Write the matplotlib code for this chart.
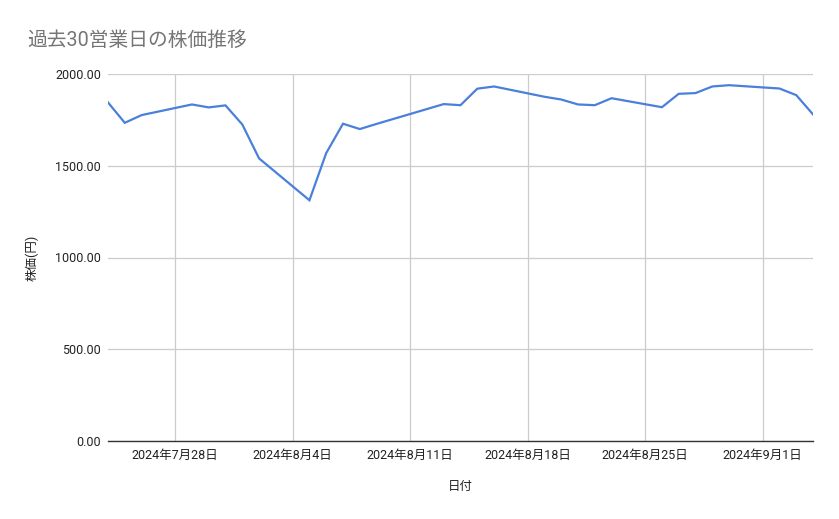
import matplotlib
matplotlib.use("Agg")
import matplotlib.pyplot as plt
import matplotlib.dates as mdates
from matplotlib.ticker import FuncFormatter
import datetime as dt

plt.rcParams['font.family'] = ['Roboto', 'Noto Sans CJK JP', 'DejaVu Sans']

dates = ["2024-07-24", "2024-07-25", "2024-07-26", "2024-07-29", "2024-07-30",
         "2024-07-31", "2024-08-01", "2024-08-02", "2024-08-05", "2024-08-06",
         "2024-08-07", "2024-08-08", "2024-08-09", "2024-08-13", "2024-08-14",
         "2024-08-15", "2024-08-16", "2024-08-19", "2024-08-20", "2024-08-21",
         "2024-08-22", "2024-08-23", "2024-08-26", "2024-08-27", "2024-08-28",
         "2024-08-29", "2024-08-30", "2024-09-02", "2024-09-03", "2024-09-04"]
prices = [1845, 1734, 1776, 1834, 1818,
          1829, 1725, 1540, 1312, 1569,
          1729, 1700, 1728, 1836, 1830,
          1920, 1932, 1876, 1861, 1834,
          1830, 1868, 1819, 1892, 1896,
          1932, 1939, 1921, 1885, 1780]
tick_dates = ["2024-07-28", "2024-08-04", "2024-08-11", "2024-08-18", "2024-08-25", "2024-09-01"]
y_ticks = [0, 500, 1000, 1500, 2000]

title = "過去30営業日の株価推移"
xlabel = "日付"
ylabel = "株価(円)"

x = [dt.datetime.strptime(d, "%Y-%m-%d") for d in dates]
xt = [dt.datetime.strptime(d, "%Y-%m-%d") for d in tick_dates]

fig = plt.figure(figsize=(8.39, 5.19), dpi=100)
ax = fig.add_axes([108/839, 1-441/519, (813-108)/839, (441-74)/519])

ax.plot(x, prices, color='#4a80dc', linewidth=1.6, solid_joinstyle='miter', zorder=3)

ax.set_xlim(x[0], x[-1])
ax.set_ylim(0, 2000)
ax.set_yticks(y_ticks)
ax.yaxis.set_major_formatter(FuncFormatter(lambda v, p: f"{v:.2f}"))
ax.set_xticks([mdates.date2num(d) for d in xt])
ax.set_xticklabels([f"{d.year}年{d.month}月{d.day}日" for d in xt])

ax.grid(True, color='#cccccc', linewidth=0.9, zorder=0)
for s in ['top', 'right', 'left']:
    ax.spines[s].set_visible(False)
ax.spines['bottom'].set_color('#333333')
ax.spines['bottom'].set_linewidth(1.0)
ax.spines['bottom'].set_zorder(4)
ax.tick_params(axis='both', length=0, labelsize=9, labelcolor='#222222')
ax.tick_params(axis='y', pad=5)
ax.tick_params(axis='x', pad=6)

ax.set_xlabel(xlabel, fontsize=9, color='#222222', labelpad=13)
ax.set_ylabel(ylabel, fontsize=9, color='#222222', labelpad=12)

fig.text(27/839, 1-40/519, title, fontsize=14.2, color='#757575', va='center', ha='left')

fig.savefig("out.png", dpi=100)
